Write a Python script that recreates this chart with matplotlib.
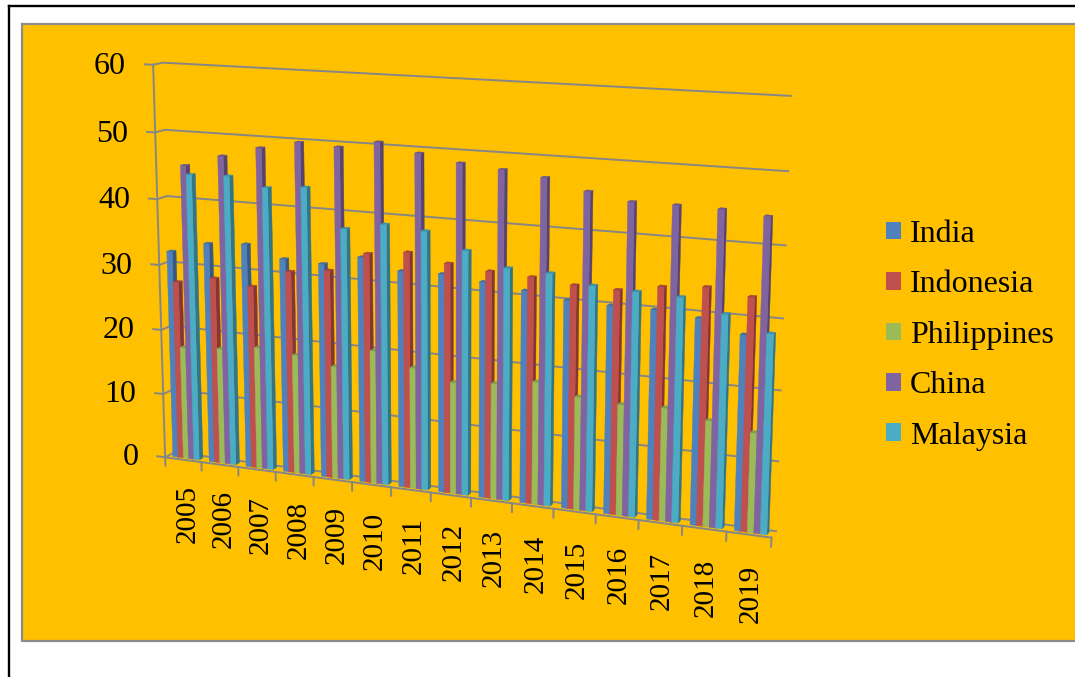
import numpy as np
import matplotlib
matplotlib.use("Agg")
import matplotlib.pyplot as plt
import matplotlib.colors as mcolors
from matplotlib.patches import Rectangle, Patch
from matplotlib.lines import Line2D
from matplotlib import transforms
from mpl_toolkits.mplot3d import proj3d

# ---- data -------------------------------------------------------------
years = [str(y) for y in range(2005, 2020)]
series = ["India", "Indonesia", "Philippines", "China", "Malaysia"]
india = [32.0, 33.7, 34.1, 32.4, 32.2, 33.7, 32.2, 32.3, 31.7, 31.0, 30.2, 30.0, 30.0, 29.4, 27.7]
indonesia = [27.4, 28.5, 27.8, 30.6, 31.3, 34.3, 35.0, 33.9, 33.3, 33.0, 32.4, 32.3, 33.3, 33.8, 33.0]
philippines = [17.4, 17.8, 18.6, 18.1, 17.0, 20.0, 18.1, 16.6, 17.1, 18.0, 16.5, 16.1, 16.3, 15.2, 14.2]
china = [45.2, 47.0, 48.6, 49.8, 49.5, 50.6, 49.4, 48.4, 47.9, 47.2, 45.7, 44.7, 44.7, 44.6, 44.1]
malaysia = [43.9, 44.1, 42.8, 43.3, 37.7, 38.8, 38.3, 36.0, 34.0, 33.8, 32.6, 32.3, 32.1, 30.3, 28.2]
colors = ["#4F81BD", "#C0504D", "#9BBB59", "#8064A2", "#4BACC6"]
value_ticks = [0, 10, 20, 30, 40, 50, 60]

# ---- figure & background ----------------------------------------------
W, H = 1075, 677
fig = plt.figure(figsize=(W / 100, H / 100), dpi=100)
fig.patch.set_facecolor("white")


def fx(px):
    return px / W


def fy(py):
    return 1 - py / H


GRID = "#868686"
SERIF = "Liberation Serif"

fig.patches.append(Rectangle((fx(22), fy(641)), fx(1110) - fx(22), fy(24) - fy(641),
                             transform=fig.transFigure, facecolor="#FFC000",
                             edgecolor="#8C8C8C", linewidth=1.6, zorder=-5))
fig.add_artist(Line2D([fx(9), fx(9)], [-0.01, fy(6)], color="black", lw=1.7,
                      transform=fig.transFigure, zorder=-4))
fig.add_artist(Line2D([fx(9), 1.01], [fy(6), fy(6)], color="black", lw=1.7,
                      transform=fig.transFigure, zorder=-4))

# ---- 3D axes ------------------------------------------------------------
side = 660
cx, cy = 455, 290
ax = fig.add_axes([fx(cx - 0.514 * side), (H - cy - 0.514 * side) / H, side / W, side / H],
                  projection="3d")
ax.set_facecolor((0, 0, 0, 0))
ax.computed_zorder = False
ax.set_proj_type("persp", focal_length=0.61)
ax.view_init(elev=12.7, azim=-67, roll=0)
ax.set_box_aspect((1, 0.03, 0.633), zoom=1.1637)

n = len(years)
ax.set_xlim(0, n, view_margin=0)
ax.set_ylim(0, 1, view_margin=0)
ax.set_zlim(0, 60, view_margin=0)

for axis in (ax.xaxis, ax.yaxis, ax.zaxis):
    axis.set_pane_color((1, 1, 1, 0))

ax.set_xticks([])
ax.set_yticks([])
ax.set_zticks(value_ticks)
ax.set_zticklabels([str(t) for t in value_ticks], fontsize=23, family=SERIF,
                   ha="right", va="center_baseline")
ax.zaxis.set_ticks_position("lower")
ax.tick_params(axis="z", color=GRID, pad=4)
ax.zaxis._axinfo["tick"]["inward_factor"] = 0.0
ax.zaxis._axinfo["tick"]["outward_factor"] = 0.0
ax.zaxis._axinfo["grid"].update(color=GRID, linewidth=1.4, linestyle="-")

ax.xaxis.line.set_color(GRID)
ax.xaxis.line.set_linewidth(1.4)
ax.zaxis.line.set_color(GRID)
ax.zaxis.line.set_linewidth(1.4)
ax.yaxis.line.set_color((0, 0, 0, 0))

# value-axis tick marks, pointing out to the left
for v in value_ticks:
    ax.plot([0, -0.22], [0, 0], [v, v], color=GRID, lw=1.4)

# category tick marks along the front edge of the floor
for k in range(n + 1):
    ax.plot([k, k], [0, 0], [0, -1.3], color=GRID, lw=1.4)

# ---- bars -------------------------------------------------------------
data = [india, indonesia, philippines, china, malaysia]
bw = 0.145
start = (1 - bw * len(series)) / 2
bar_y0, bar_depth = 0.3, 0.4
hidden = (0, 0, 0, 0)
bars = []
for j, (vals, c) in enumerate(zip(data, colors)):
    base = np.array(mcolors.to_rgb(c))
    for i, v in enumerate(vals):
        # face order: bottom, top, front, back, left, right
        faces = [hidden, tuple(base * 0.85), tuple(base), hidden, hidden, tuple(base * 0.68)]
        bars.append((i + start + j * bw, v, faces))

# paint from the far (left) end towards the near (right) end
bars.sort(key=lambda b: b[0])
for rank, (x0, v, faces) in enumerate(bars):
    ax.bar3d(x0, bar_y0, 0, bw, bar_depth, v, color=faces, shade=False,
             edgecolor=faces, linewidth=0.3, zorder=10 + rank)

# category labels: anchored below the floor edge in data space (so the gap
# follows the perspective), then drawn upright on the screen
M = ax.get_proj()
px, py, _ = proj3d.proj_transform(np.arange(n) + 0.5, np.zeros(n), np.full(n, -7.1), M)
off = transforms.offset_copy(ax.transData, fig=fig, x=3, y=19, units="dots")
for s, a, b in zip(years, px, py):
    ax.text2D(a, b, s, transform=off, rotation=90, ha="center", va="top",
              fontsize=21, family=SERIF)

# ---- legend -----------------------------------------------------------
handles = [Patch(facecolor=c, edgecolor="none") for c in colors]
fig.legend(handles, series, loc="upper left", bbox_to_anchor=(fx(886), fy(220)),
           frameon=False, prop={"family": SERIF, "size": 23},
           handlelength=0.47, handleheight=0.47, handletextpad=0.28,
           labelspacing=0.67, borderpad=0, borderaxespad=0)

fig.savefig("out.png", dpi=100)
